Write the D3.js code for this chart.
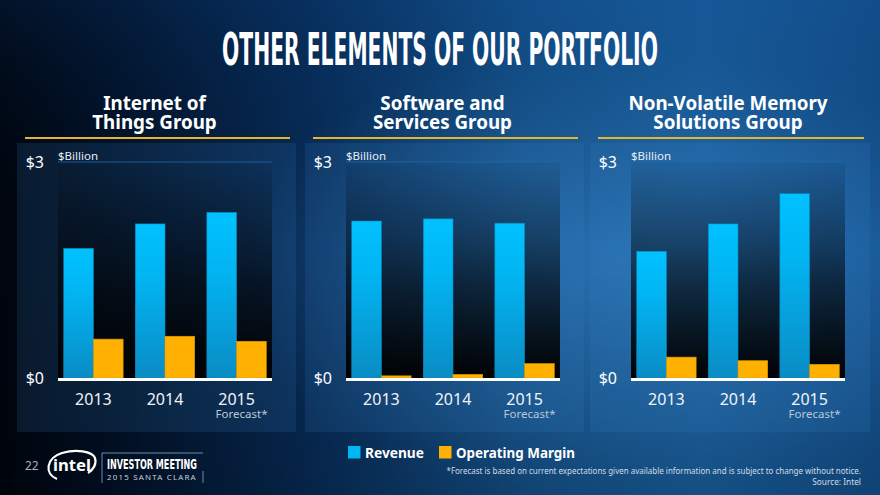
<!DOCTYPE html>
<html><head><meta charset="utf-8">
<script src="https://cdn.jsdelivr.net/npm/d3@7/dist/d3.min.js"></script>
<style>html,body{margin:0;padding:0;background:#000;}svg{display:block;}</style>
</head><body>
<script>
const title = "OTHER ELEMENTS OF OUR PORTFOLIO";
const groups = [["Internet of","Things Group"],["Software and","Services Group"],["Non-Volatile Memory","Solutions Group"]];
const years = ["2013","2014","2015"];
const revenue = [[1.80,2.14,2.30],[2.18,2.21,2.15],[1.76,2.14,2.56]];
const opMargin = [[0.54,0.58,0.51],[0.03,0.05,0.20],[0.29,0.24,0.19]];
const yTicks = [0,3];
const tickLabels = ["$0","$3"];
const seriesNames = ["Revenue","Operating Margin"];

const W=880,H=495;
const svg=d3.select("body").append("svg").attr("width",W).attr("height",H);
const defs=svg.append("defs");
const bg=defs.append("linearGradient").attr("id","bg").attr("x1",0).attr("x2",1).attr("y1",0).attr("y2",0);
[[0,"#00050e"],[0.12,"#011025"],[0.35,"#072c58"],[0.6,"#14548f"],[0.8,"#1a62a3"],[1,"#145391"]].forEach(s=>bg.append("stop").attr("offset",s[0]).attr("stop-color",s[1]));
const rg=defs.append("radialGradient").attr("id","glow").attr("cx",0.7).attr("cy",0.55).attr("r",0.45);
rg.append("stop").attr("offset",0).attr("stop-color","#4a9ae0").attr("stop-opacity",0.35);
rg.append("stop").attr("offset",1).attr("stop-color","#4a9ae0").attr("stop-opacity",0);
const vg=defs.append("linearGradient").attr("id","vshade").attr("x1",0).attr("x2",0).attr("y1",0).attr("y2",1);
vg.append("stop").attr("offset",0).attr("stop-color","#0a3c78").attr("stop-opacity",0.25);
vg.append("stop").attr("offset",0.5).attr("stop-color","#000").attr("stop-opacity",0);
vg.append("stop").attr("offset",1).attr("stop-color","#000").attr("stop-opacity",0.2);
const pg=defs.append("linearGradient").attr("id","plotg").attr("x1",0).attr("x2",0).attr("y1",0).attr("y2",1);
pg.append("stop").attr("offset",0).attr("stop-color","#000").attr("stop-opacity",0.05);
pg.append("stop").attr("offset",0.55).attr("stop-color","#000").attr("stop-opacity",0.6);
pg.append("stop").attr("offset",1).attr("stop-color","#000").attr("stop-opacity",0.97);
const bgBar=defs.append("linearGradient").attr("id","blueBar").attr("x1",0).attr("x2",0).attr("y1",0).attr("y2",1);
bgBar.append("stop").attr("offset",0).attr("stop-color","#00c2ff");
bgBar.append("stop").attr("offset",0.35).attr("stop-color","#02b4f2");
bgBar.append("stop").attr("offset",1).attr("stop-color","#0a8cc4");

svg.append("rect").attr("width",W).attr("height",H).attr("fill","url(#bg)");
svg.append("rect").attr("width",W).attr("height",H).attr("fill","url(#glow)");
svg.append("rect").attr("width",W).attr("height",H).attr("fill","url(#vshade)");

const font="'Noto Sans','Open Sans',sans-serif";
const condensed="'Liberation Sans Narrow','DejaVu Sans Condensed',sans-serif";

// text fitted to a target width through a horizontal scale
function fitText(x,y,anchor,width,str,attrs){
  const g=svg.append("g");
  const t=g.append("text").attr("x",0).attr("y",0).attr("text-anchor",anchor).text(str);
  Object.entries(attrs).forEach(([k,v])=>t.attr(k,v));
  const len=t.node().getComputedTextLength();
  g.attr("transform",`translate(${x},${y}) scale(${width/len},1)`);
  return g;
}

fitText(440,65,"middle",436,title,{"font-family":condensed,"font-weight":"bold","font-size":45,"fill":"#fff"});

const panels=[{x:17,w:279},{x:305,w:279},{x:590,w:280}];
const plotTop=162, plotBase=378, panelTop=143, panelBottom=432;
const y=d3.scaleLinear().domain([0,3]).range([plotBase,plotTop]);

panels.forEach((p,i)=>{
  const g=svg.append("g");
  const cx=p.x+p.w/2-2;
  g.append("text").attr("x",cx).attr("y",110).attr("text-anchor","middle").attr("font-family",font).attr("font-weight","bold").attr("font-size",18.8).attr("fill","#fff").text(groups[i][0]);
  g.append("text").attr("x",cx).attr("y",129).attr("text-anchor","middle").attr("font-family",font).attr("font-weight","bold").attr("font-size",18.8).attr("fill","#fff").text(groups[i][1]);
  g.append("line").attr("x1",p.x+8).attr("x2",p.x+p.w-6).attr("y1",138).attr("y2",138).attr("stroke","#e5b52e").attr("stroke-width",1.8);
  g.append("rect").attr("x",p.x).attr("y",panelTop).attr("width",p.w).attr("height",panelBottom-panelTop).attr("fill","#3a80c8").attr("fill-opacity",0.16);
  const pl=p.x+41, pr=p.x+255;
  g.append("rect").attr("x",pl).attr("y",plotTop).attr("width",pr-pl).attr("height",plotBase-plotTop).attr("fill","url(#plotg)");
  g.append("line").attr("x1",pl).attr("x2",pr).attr("y1",y(3)).attr("y2",y(3)).attr("stroke","#1f6aa8").attr("stroke-opacity",0.8).attr("stroke-width",1.2);
  g.append("text").attr("x",pl).attr("y",160).attr("font-family",font).attr("font-size",11.5).attr("fill","#e6eef6").text("$Billion");
  yTicks.forEach((t,k)=>{
    g.append("text").attr("x",pl-14).attr("y",y(t)).attr("dy","0.36em").attr("text-anchor","end").attr("font-family",font).attr("font-size",16).attr("fill","#fff").text(tickLabels[k]);
  });
  const x0=d3.scaleBand().domain(years).range([pl,pr]).paddingInner(0.17).paddingOuter(0.08);
  const x1=d3.scaleBand().domain(seriesNames).range([0,x0.bandwidth()]);
  const data=years.map((yr,j)=>({yr,vals:[revenue[i][j],opMargin[i][j]]}));
  const gg=g.selectAll(".grp").data(data).enter().append("g").attr("transform",d=>`translate(${x0(d.yr)},0)`);
  gg.selectAll("rect").data(d=>d.vals.map((v,k)=>({k,v}))).enter().append("rect")
    .attr("x",d=>x1(seriesNames[d.k])).attr("width",x1.bandwidth())
    .attr("y",d=>y(d.v)).attr("height",d=>y(0)-y(d.v))
    .attr("fill",d=>d.k===0?"url(#blueBar)":"#ffb000")
    .attr("stroke",d=>d.k===0?"#0a86c0":"#e09a00").attr("stroke-width",0.6);
  g.append("line").attr("x1",pl).attr("x2",pr).attr("y1",plotBase+1.5).attr("y2",plotBase+1.5).attr("stroke","#fff").attr("stroke-width",3);
  years.forEach(yr=>{
    const c=x0(yr)+x0.bandwidth()/2;
    g.append("text").attr("x",c).attr("y",405).attr("text-anchor","middle").attr("font-family",font).attr("font-size",16).attr("fill","#f0f4f8").text(yr);
  });
  const c3=x0(years[2])+x0.bandwidth()/2;
  g.append("text").attr("x",c3+5).attr("y",417.5).attr("text-anchor","middle").attr("font-family",font).attr("font-size",11.5).attr("fill","#b8c8d8").text("Forecast*");
});

// legend
[[348,"#00b6f3",365,59],[439,"#ffb000",456,119]].forEach((l,k)=>{
  svg.append("rect").attr("x",l[0]).attr("y",446).attr("width",12.5).attr("height",12.5).attr("fill",l[1]);
  fitText(l[2],458,"start",l[3],seriesNames[k],{"font-family":font,"font-weight":"bold","font-size":14.6,"fill":"#fff"});
});
fitText(861,474,"end",415,"*Forecast is based on current expectations given available information and is subject to change without notice.",{"font-family":font,"font-size":8.5,"fill":"#d0dbe6"});
svg.append("text").attr("x",861).attr("y",485).attr("text-anchor","end").attr("font-family",font).attr("font-size",8.3).attr("fill","#d0dbe6").text("Source: Intel");

// footer logo
svg.append("text").attr("x",25).attr("y",470).attr("font-family",font).attr("font-size",12).attr("fill","#a8b0bc").text("22");
svg.append("path").attr("d","M57,479 C44,474 46,458 62,453 C76,449 92,451 95,458 C97,464 93,470 88,473").attr("fill","none").attr("stroke","#fff").attr("stroke-width",2.2);
fitText(53,471,"start",38,"intel",{"font-family":font,"font-weight":"bold","font-size":16,"fill":"#fff"});
svg.append("path").attr("d","M102,483 L102,453 L203,453").attr("fill","none").attr("stroke","#6a8cb0").attr("stroke-width",1);
svg.append("path").attr("d","M203,471 L203,483").attr("fill","none").attr("stroke","#6a8cb0").attr("stroke-width",1);
fitText(107,469,"start",90,"INVESTOR MEETING",{"font-family":condensed,"font-weight":"bold","font-size":14.5,"fill":"#fff"});
fitText(107,479.5,"start",90,"2015 SANTA CLARA",{"font-family":font,"font-size":8,"fill":"#c8d0da","letter-spacing":1.2});
</script>
</body></html>
